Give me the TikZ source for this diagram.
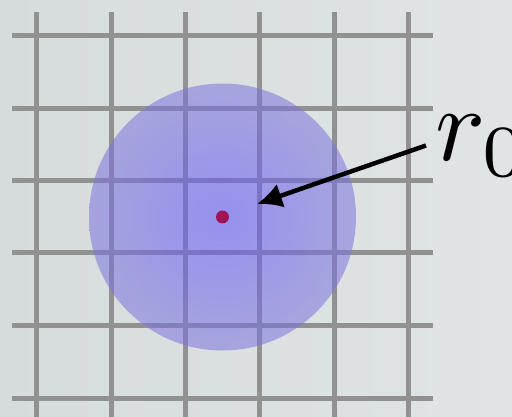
\documentclass[tikz,border=0pt]{standalone}
\usepackage{graphicx}
\usetikzlibrary{arrows.meta}
\definecolor{bgl}{RGB}{214,219,220}
\definecolor{bgr}{RGB}{224,228,229}
\definecolor{gridgray}{RGB}{145,145,145}
\definecolor{cin}{RGB}{95,80,252}
\definecolor{cout}{RGB}{140,135,203}
\definecolor{dotred}{RGB}{160,20,85}
\pgfdeclareradialshading{blob}{\pgfpoint{0bp}{0bp}}{color(0bp)=(cin); color(38bp)=(cout); color(50bp)=(cout)}
\tikzset{
  gridline/.style={draw=gridgray, line width=5pt},
  pointer/.style={draw=black, line width=4.5pt, -{Latex[length=25pt,width=25pt]}}
}
\begin{document}
\begin{tikzpicture}[x=1pt,y=-1pt]
\useasboundingbox (0,0) rectangle (512,417);
\shade[left color=bgl, right color=bgr] (0,0) rectangle (512,417);
% grid
\foreach \x in {36.5,111,185,259.5,334,408.7}
  \draw[gridline] (\x,12) -- (\x,417);
\foreach \y in {36,108.5,181,253,325,398}
  \draw[gridline] (12,\y) -- (432.5,\y);
% blob
\shade[shading=blob, opacity=0.55] (222.5,217) circle[radius=133.5];
% centre dot
\node[circle, fill=dotred, inner sep=0pt, minimum size=13pt] (c) at (222.5,217) {};
% label
\node[anchor=base west, inner sep=0pt] (r0) at (435,161) {\scalebox{10.5}{$r_0$}};
\coordinate (tail) at (426,145.5);
\coordinate (tip) at (257,204);
\draw[pointer] (tail) -- (tip);
\end{tikzpicture}
\end{document}
